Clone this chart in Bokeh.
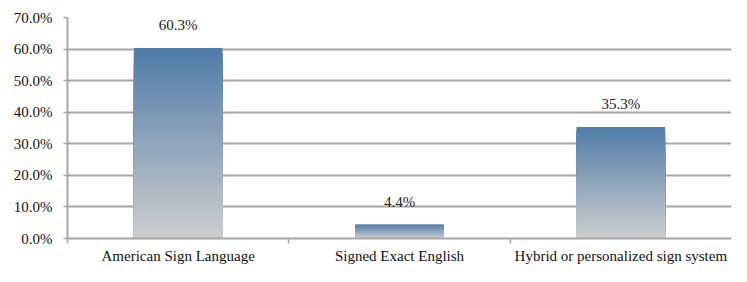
from bokeh.plotting import figure
from bokeh.models import Range1d, FixedTicker, NumeralTickFormatter, ColumnDataSource
from bokeh.core.properties import value
from bokeh.embed import file_html
from bokeh.resources import INLINE

categories = ["American Sign Language", "Signed Exact English", "Hybrid or personalized sign system"]
values = [0.603, 0.044, 0.353]
value_labels = ["60.3%", "4.4%", "35.3%"]
y_ticks = [0.0, 0.1, 0.2, 0.3, 0.4, 0.5, 0.6, 0.7]

FONT = "Liberation Serif"
TOP = (80, 124, 168)
BOTTOM = (206, 206, 206)
N = 60

p = figure(width=731, height=266, output_backend="svg", toolbar_location=None,
           x_range=Range1d(0, len(categories)), y_range=Range1d(0, 0.7),
           min_border_left=67, min_border_right=0, min_border_top=17, min_border_bottom=20)
p.outline_line_color = None
p.background_fill_color = "white"

xs = [i + 0.5 for i in range(len(categories))]

# gradient bars: overlapping vbars from 0, each shorter one drawn on top
for k in range(N, 0, -1):
    t = (k - 0.5) / N
    c = tuple(int(round(BOTTOM[j] + (TOP[j] - BOTTOM[j]) * t)) for j in range(3))
    col = "#%02x%02x%02x" % c
    p.vbar(x=xs, width=0.4, bottom=0, top=[v * k / N for v in values],
           fill_color=col, line_color=None)

src = ColumnDataSource(dict(x=xs, y=values, t=value_labels))
p.text(x="x", y="y", text="t", source=src, text_align="center", text_baseline="bottom",
       y_offset=-15, text_font=value(FONT), text_font_size="15px", text_color="#222222")

grey = "#a6a6a6"
p.xaxis.ticker = FixedTicker(ticks=xs, minor_ticks=list(range(len(categories))))
p.xaxis.major_label_overrides = {x: c for x, c in zip(xs, categories)}
p.xaxis.major_tick_line_color = None
p.xaxis.major_tick_in = 0
p.xaxis.major_tick_out = 0
p.xaxis.minor_tick_line_color = grey
p.xaxis.minor_tick_in = 0
p.xaxis.minor_tick_out = 5
p.xaxis.minor_tick_line_width = 1.5
p.xaxis.axis_line_color = grey
p.xaxis.axis_line_width = 2
p.xaxis.major_label_text_font = FONT
p.xaxis.major_label_text_font_size = "15px"
p.xaxis.major_label_text_color = "#111111"
p.xaxis.major_label_standoff = 4

p.yaxis.ticker = FixedTicker(ticks=y_ticks, minor_ticks=[])
p.yaxis.formatter = NumeralTickFormatter(format="0.0%")
p.yaxis.axis_line_color = grey
p.yaxis.axis_line_width = 2
p.yaxis.major_tick_line_color = grey
p.yaxis.major_tick_line_width = 1.5
p.yaxis.major_tick_in = 0
p.yaxis.major_tick_out = 4
p.yaxis.major_label_text_font = FONT
p.yaxis.major_label_text_font_size = "15px"
p.yaxis.major_label_text_color = "#111111"
p.yaxis.major_label_standoff = 11

p.xgrid.grid_line_color = None
p.ygrid.ticker = FixedTicker(ticks=y_ticks)
p.ygrid.grid_line_color = grey
p.ygrid.grid_line_width = 2

open("out.html", "w").write(file_html(p, INLINE))
